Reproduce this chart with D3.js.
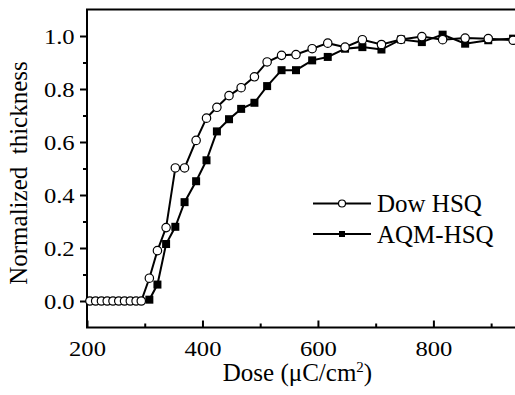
<!DOCTYPE html>
<html>
<head>
<meta charset="utf-8">
<script src="https://cdn.jsdelivr.net/npm/d3@7"></script>
<style>
  body { margin: 0; background: #fff; }
  svg, svg text { font-family: "Times New Roman", "Liberation Serif", "DejaVu Serif", serif; fill: #000; }
  .axis path, .axis line { stroke: #000; }
</style>
</head>
<body>
<div id="chart"></div>
<script>
// dose values (uC/cm2)
var doseZero = [205, 215, 225, 235, 245, 255, 265, 275, 285, 294];
var dose = [308, 322, 337, 353, 369, 389, 407, 425, 446, 467, 490, 512, 537, 562, 590,
            617, 647, 677, 710, 744, 780, 816, 855, 895, 938];
var dowHSQ = [0.086, 0.19, 0.277, 0.502, 0.502, 0.606, 0.69, 0.731, 0.775, 0.805, 0.846,
              0.902, 0.927, 0.930, 0.952, 0.973, 0.958, 0.986, 0.968, 0.987, 0.998, 0.986,
              0.992, 0.99, 0.984];
var aqmHSQ = [0.005, 0.062, 0.215, 0.28, 0.373, 0.452, 0.531, 0.64, 0.686, 0.725, 0.748,
              0.811, 0.871, 0.871, 0.908, 0.921, 0.952, 0.958, 0.949, 0.987, 0.977, 1.005,
              0.971, 0.984, 0.99];
var xTicks = [200, 400, 600, 800];
var xMinor = [300, 500, 700, 900];
var yTicks = [0, 0.2, 0.4, 0.6, 0.8, 1.0];
var yMinor = [0.1, 0.3, 0.5, 0.7, 0.9];

var FONT = '"Times New Roman", "Liberation Serif", serif';
var svgWidth = 515, svgHeight = 395;
var margin = { top: 9.5, left: 87 };
var width = 433, height = 318;

var svg = d3.select('#chart').append('svg')
  .attr('width', svgWidth)
  .attr('height', svgHeight)
  .attr('font-family', FONT);

var x = d3.scaleLinear().domain([200, 950]).range([0, width]);
var y = d3.scaleLinear().domain([-0.1, 1.1]).range([height, 0]);

var g = svg.append('g')
  .attr('transform', 'translate(' + margin.left + ',' + margin.top + ')');

// frame
g.append('rect')
  .attr('width', width).attr('height', height)
  .attr('fill', 'none').attr('stroke', '#000').attr('stroke-width', 2);

// x axis: ticks point inward
g.append('g')
  .attr('class', 'axis')
  .attr('transform', 'translate(0,' + height + ')')
  .call(d3.axisBottom(x).tickValues(xMinor).tickSize(-4).tickFormat(''))
  .call(function (s) { s.select('.domain').remove(); s.selectAll('line').attr('stroke-width', 2); });
g.append('g')
  .attr('class', 'axis')
  .attr('transform', 'translate(0,' + height + ')')
  .call(d3.axisBottom(x).tickValues(xTicks).tickSize(-7).tickFormat(d3.format('d')))
  .call(function (s) {
    s.attr('font-family', FONT);
    s.select('.domain').remove();
    s.selectAll('line').attr('stroke-width', 2);
    s.selectAll('text').attr('font-size', '22px').attr('font-family', FONT)
      .attr('dy', null).attr('y', 29).attr('transform', 'scale(1.12,1)');
  });

// y axis: ticks point outward
g.append('g')
  .attr('class', 'axis')
  .call(d3.axisLeft(y).tickValues(yMinor).tickSize(4).tickFormat(''))
  .call(function (s) { s.select('.domain').remove(); s.selectAll('line').attr('stroke-width', 2); });
g.append('g')
  .attr('class', 'axis')
  .call(d3.axisLeft(y).tickValues(yTicks).tickSize(7).tickPadding(4).tickFormat(d3.format('.1f')))
  .call(function (s) {
    s.attr('font-family', FONT);
    s.select('.domain').remove();
    s.selectAll('line').attr('stroke-width', 2);
    s.selectAll('text').attr('font-size', '22px').attr('font-family', FONT)
      .attr('dy', null).attr('y', 7.5).attr('transform', 'scale(1.12,1)');
  });

// axis titles
svg.append('text')
  .attr('x', 297.5).attr('y', 381)
  .attr('text-anchor', 'middle').attr('font-size', '25px').attr('font-family', FONT)
  .html('Dose (&#956;C/cm<tspan dy="-9" font-size="15px">2</tspan><tspan dy="9">)</tspan>');
svg.append('text')
  .attr('transform', 'translate(27,173) rotate(-90)')
  .attr('text-anchor', 'middle').attr('font-size', '25px').attr('font-family', FONT)
  .attr('xml:space', 'preserve')
  .text('Normalized  thickness');

var dowData = doseZero.map(function (d) { return [d, 0]; })
  .concat(dose.map(function (d, i) { return [d, dowHSQ[i]]; }));
var aqmData = dose.map(function (d, i) { return [d, aqmHSQ[i]]; });

var line = d3.line()
  .x(function (d) { return x(d[0]); })
  .y(function (d) { return y(d[1]); });

g.append('path').datum(aqmData)
  .attr('d', line).attr('fill', 'none').attr('stroke', '#000').attr('stroke-width', 2);
g.append('path').datum(dowData)
  .attr('d', line).attr('fill', 'none').attr('stroke', '#000').attr('stroke-width', 2);

var sq = 8;
g.selectAll('.sq').data(aqmData).enter().append('rect')
  .attr('class', 'sq')
  .attr('x', function (d) { return x(d[0]) - sq / 2; })
  .attr('y', function (d) { return y(d[1]) - sq / 2; })
  .attr('width', sq).attr('height', sq)
  .attr('fill', '#000');

g.selectAll('.dot').data(dowData).enter().append('circle')
  .attr('class', 'dot')
  .attr('cx', function (d) { return x(d[0]); })
  .attr('cy', function (d) { return y(d[1]); })
  .attr('r', 4.2)
  .attr('fill', '#fff').attr('stroke', '#000').attr('stroke-width', 1.2);

// legend
var legend = svg.append('g');
var items = [
  { name: 'Dow HSQ', marker: 'circle', y: 203.5 },
  { name: 'AQM-HSQ', marker: 'square', y: 234 }
];
items.forEach(function (it) {
  legend.append('line')
    .attr('x1', 313).attr('x2', 371).attr('y1', it.y).attr('y2', it.y)
    .attr('stroke', '#000').attr('stroke-width', 2);
  if (it.marker === 'circle') {
    legend.append('circle').attr('cx', 342).attr('cy', it.y).attr('r', 3.5)
      .attr('fill', '#fff').attr('stroke', '#000').attr('stroke-width', 1.2);
  } else {
    legend.append('rect').attr('x', 339).attr('y', it.y - 3).attr('width', 6).attr('height', 6)
      .attr('fill', '#000');
  }
  legend.append('text')
    .attr('x', 377).attr('y', it.y + 8.5)
    .attr('font-size', '25px').attr('font-family', FONT)
    .text(it.name);
});
</script>
</body>
</html>
